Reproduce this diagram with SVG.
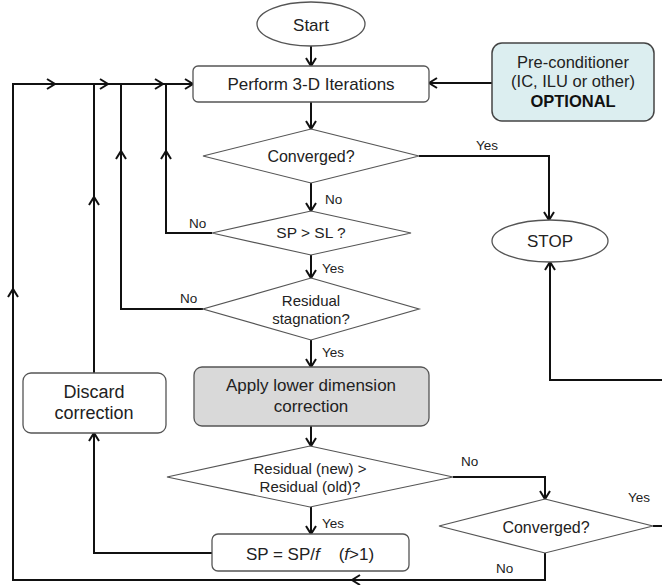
<svg xmlns="http://www.w3.org/2000/svg" width="662" height="585" viewBox="0 0 662 585">
<defs>
<marker id="ah" viewBox="-10 -7 12 14" refX="0" refY="0" markerWidth="12" markerHeight="14" markerUnits="userSpaceOnUse" orient="auto">
<path d="M-8,-5 L0,0 L-8,5" fill="none" stroke="#111" stroke-width="2"/>
</marker>
<style>
.shape{fill:#fff;stroke:#555;stroke-width:1.3}
.dia{fill:#fff;stroke:#555;stroke-width:1.2}
.t{font-family:"Liberation Sans",Arial,sans-serif;fill:#222;text-anchor:middle}
.lbl{font-family:"Liberation Sans",Arial,sans-serif;fill:#222;font-size:13.5px}
.c{fill:none;stroke:#111;stroke-width:2}
.a{fill:none;stroke:#111;stroke-width:2;marker-end:url(#ah)}
</style>
</defs>
<rect width="662" height="585" fill="#fff"/>
<g id="connectors">
<path class="a" d="M311,46 V66"/>
<path class="a" d="M311,102 V129"/>
<path class="a" d="M311,183 V211"/>
<path class="a" d="M311,255 V278"/>
<path class="a" d="M311,340 V367"/>
<path class="a" d="M311,426 V446"/>
<path class="a" d="M311,507 V534"/>
<path class="a" d="M419,156 H549 V220"/>
<path class="a" d="M492,83 H429"/>
<path class="c" d="M212,233 H166 V84"/>
<path class="a" d="M166,160 V151"/>
<path class="c" d="M203,309 H121 V84"/>
<path class="a" d="M121,160 V151"/>
<path class="c" d="M94,373 V84"/>
<path class="a" d="M94,206 V197"/>
<path class="a" d="M212,553 H94 V433"/>
<path class="a" d="M453,477 H545 V499"/>
<path class="a" d="M653,526 H670 V380 H550 V262"/>
<path class="a" d="M545,553 V580 H13 V84 H193"/>
<path class="a" d="M362,580 H352"/>
<path class="a" d="M13,298 V289"/>
<path class="a" d="M45,84 H55"/>
<path class="a" d="M98,84 H108"/>
<path class="a" d="M153,84 H163"/>
</g>
<g id="start">
<ellipse class="shape" cx="311" cy="24" rx="54" ry="22"/>
<text class="t" x="311" y="31" font-size="17">Start</text>
</g>
<g id="perform">
<rect class="shape" x="193" y="66" width="236" height="36" rx="5"/>
<text class="t" x="311" y="90" font-size="17">Perform 3-D Iterations</text>
</g>
<g id="precond">
<rect x="492" y="43" width="162" height="78" rx="10" fill="#dceef0" stroke="#444" stroke-width="1.5"/>
<text class="t" x="573" y="68" font-size="16.5" fill="#333">Pre-conditioner</text>
<text class="t" x="573" y="87" font-size="16.5" fill="#333">(IC, ILU or other)</text>
<text class="t" x="573" y="107" font-size="16.5" font-weight="bold" style="fill:#111">OPTIONAL</text>
</g>
<g id="converged1">
<polygon class="dia" points="311,129 419,156 311,183 203,156"/>
<text class="t" x="311" y="162" font-size="16">Converged?</text>
</g>
<g id="stop">
<ellipse class="shape" cx="550" cy="241" rx="58" ry="21"/>
<text class="t" x="550" y="247" font-size="17">STOP</text>
</g>
<g id="spsl">
<polygon class="dia" points="311,211 411,233 311,255 212,233"/>
<text class="t" x="311" y="238" font-size="15.5">SP &gt; SL ?</text>
</g>
<g id="stagnation">
<polygon class="dia" points="311,278 419,309 311,340 203,309"/>
<text class="t" x="311" y="306" font-size="15">Residual</text>
<text class="t" x="311" y="324" font-size="15">stagnation?</text>
</g>
<g id="apply">
<rect x="194" y="367" width="235" height="59" rx="8" fill="#d9d9d9" stroke="#555" stroke-width="1.3"/>
<text class="t" x="311" y="391" font-size="17">Apply lower dimension</text>
<text class="t" x="311" y="412" font-size="17">correction</text>
</g>
<g id="discard">
<rect class="shape" x="23" y="373" width="143" height="60" rx="8"/>
<text class="t" x="94" y="398" font-size="18">Discard</text>
<text class="t" x="94" y="419" font-size="18">correction</text>
</g>
<g id="residualnew">
<polygon class="dia" points="310,446 453,477 310,507 167,477"/>
<text class="t" x="310" y="474" font-size="15">Residual (new) &gt;</text>
<text class="t" x="310" y="492" font-size="15">Residual (old)?</text>
</g>
<g id="converged2">
<polygon class="dia" points="545,499 653,526 545,553 439,526"/>
<text class="t" x="546" y="533" font-size="16">Converged?</text>
</g>
<g id="spbox">
<rect class="shape" x="212" y="534" width="197" height="37" rx="6"/>
<text class="t" x="310" y="560" font-size="17" xml:space="preserve">SP = SP/<tspan font-style="italic">f</tspan>    (<tspan font-style="italic">f</tspan>&gt;1)</text>
</g>
<g id="labels">
<text class="lbl" x="476" y="150">Yes</text>
<text class="lbl" x="325" y="204">No</text>
<text class="lbl" x="189" y="228">No</text>
<text class="lbl" x="322" y="273">Yes</text>
<text class="lbl" x="180" y="303">No</text>
<text class="lbl" x="322" y="357">Yes</text>
<text class="lbl" x="461" y="466">No</text>
<text class="lbl" x="322" y="528">Yes</text>
<text class="lbl" x="628" y="502">Yes</text>
<text class="lbl" x="496" y="573">No</text>
</g>
</svg>
